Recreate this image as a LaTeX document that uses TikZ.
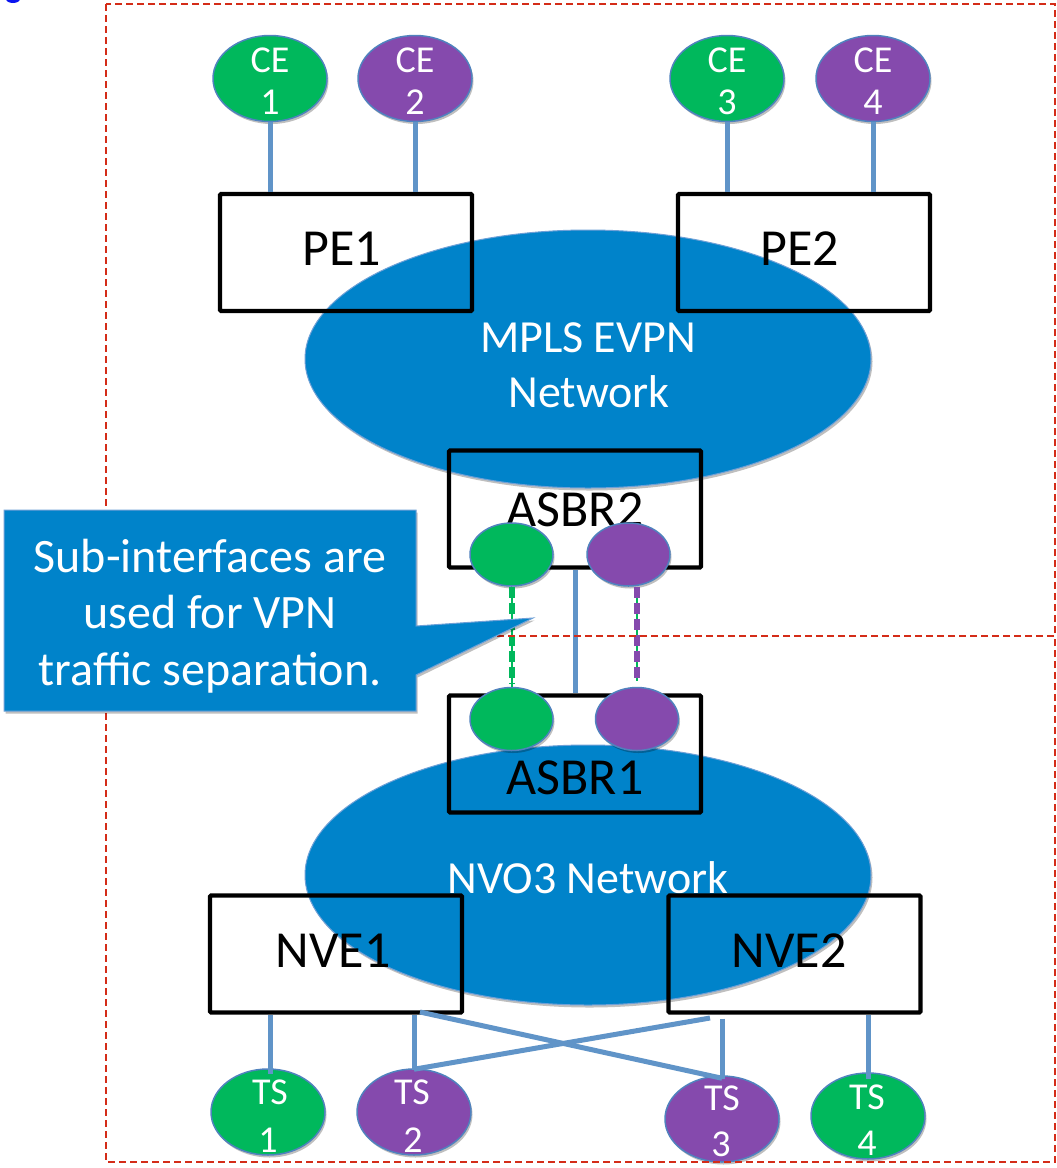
\documentclass[tikz,border=0pt]{standalone}
\usepackage{fontspec}
\setmainfont{Carlito}
\usetikzlibrary{shapes.geometric,shadows}
\definecolor{netblue}{RGB}{0,131,202}
\definecolor{vgreen}{RGB}{0,184,92}
\definecolor{vpurple}{RGB}{133,74,173}
\definecolor{linkblue}{RGB}{96,148,200}
\definecolor{rimblue}{RGB}{80,130,190}
\definecolor{calloutrim}{RGB}{110,160,215}
\definecolor{reddash}{RGB}{212,44,24}
\definecolor{dotblue}{RGB}{10,20,240}
\begin{document}
\begin{tikzpicture}[x=1pt,y=-1pt,
  softshadow/.style={drop shadow={shadow xshift=1.5pt, shadow yshift=-2.5pt, opacity=0.25, fill=black}},
  cloud/.style={ellipse, fill=netblue, draw=calloutrim, line width=1pt, minimum width=566pt, minimum height=258pt, inner sep=0pt, softshadow},
  host/.style={ellipse, draw=rimblue, line width=1.5pt, minimum width=114pt, minimum height=86pt, inner sep=0pt, softshadow},
  port/.style={ellipse, draw=rimblue, line width=1.5pt, minimum width=83pt, minimum height=63pt, inner sep=0pt, softshadow},
  devbox/.style={rectangle, draw=black, line width=4.2pt, minimum width=252pt, minimum height=117pt, inner sep=0pt, rounded corners=1pt},
  hosttext/.style={anchor=base, text=white, font=\fontsize{38}{44}\selectfont, inner sep=0pt},
  boxtext/.style={anchor=base, text=black, font=\fontsize{52}{60}\selectfont, inner sep=0pt},
  cloudtext/.style={anchor=base, text=white, font=\fontsize{46}{55}\selectfont, inner sep=0pt},
  calltext/.style={anchor=base, text=white, font=\fontsize{48}{57}\selectfont, inner sep=0pt},
  link/.style={draw=linkblue, line width=5pt},
  zone/.style={draw=reddash, line width=2pt, dash pattern=on 7pt off 4pt},
]
\useasboundingbox (0,0) rectangle (1057,1168);
\fill[white] (0,0) rectangle (1057,1168);

% clouds
\node[cloud] (mpls) at (588,359) {};
\node[cloud, minimum height=260pt] (nvo3) at (588,875) {};
\node[cloudtext] (mplst1) at (588,352) {MPLS EVPN};
\node[cloudtext] (mplst2) at (589,407) {Network};
\node[cloudtext] (nvo3t) at (588,893) {NVO3 Network};

% device boxes
\node[devbox] (pe1) at (346,252.5) {};
\node[devbox] (pe2) at (804,252.5) {};
\node[devbox] (asbr2) at (575,509) {};
\node[devbox] (asbr1) at (575,754) {};
\node[devbox] (nve1) at (336,954) {};
\node[devbox] (nve2) at (794.5,954) {};
\node[boxtext] (pe1t) at (342,265) {PE1};
\node[boxtext] (pe2t) at (800,265) {PE2};
\node[boxtext] (asbr2t) at (575,526) {ASBR2};
\node[boxtext] (asbr1t) at (575,794) {ASBR1};
\node[boxtext] (nve1t) at (333,967) {NVE1};
\node[boxtext] (nve2t) at (789,967) {NVE2};

% CE hosts
\node[host, fill=vgreen] (ce1) at (270,78.5) {};
\node[host, fill=vpurple] (ce2) at (415,78.5) {};
\node[host, fill=vgreen] (ce3) at (727,78.5) {};
\node[host, fill=vpurple] (ce4) at (873,78.5) {};
\node[hosttext] (ce1a) at (270,72) {CE};
\node[hosttext] (ce1b) at (270,114) {1};
\node[hosttext] (ce2a) at (415,72) {CE};
\node[hosttext] (ce2b) at (415,114) {2};
\node[hosttext] (ce3a) at (727,72) {CE};
\node[hosttext] (ce3b) at (727,114) {3};
\node[hosttext] (ce4a) at (873,72) {CE};
\node[hosttext] (ce4b) at (873,114) {4};

% ASBR sub-interface ports
\node[port, fill=vgreen] (g2) at (511.5,554.5) {};
\node[port, fill=vpurple] (p2) at (628.5,554.5) {};
\node[port, fill=vgreen] (g1) at (511.5,719) {};
\node[port, fill=vpurple] (p1) at (637,719) {};

% TS hosts
\node[host, fill=vgreen] (ts1) at (268,1112) {};
\node[host, fill=vpurple] (ts2) at (414,1112) {};
\node[host, fill=vpurple] (ts3) at (722,1119) {};
\node[host, fill=vgreen] (ts4) at (868,1116) {};
\node[hosttext] (ts1a) at (270,1104) {TS};
\node[hosttext] (ts1b) at (268,1152) {1};
\node[hosttext] (ts2a) at (412,1104) {TS};
\node[hosttext] (ts2b) at (413,1152) {2};
\node[hosttext] (ts3a) at (722,1110) {TS};
\node[hosttext] (ts3b) at (721,1156) {3};
\node[hosttext] (ts4a) at (867,1109) {TS};
\node[hosttext] (ts4b) at (867,1155) {4};

% links CE - PE
\draw[link] (ce1.south) -- (ce1.south |- pe1.north);
\draw[link] (ce2.south) -- (ce2.south |- pe1.north);
\draw[link] (ce3.south) -- (ce3.south |- pe2.north);
\draw[link] (ce4.south) -- (ce4.south |- pe2.north);

% ASBR links
\draw[link] (asbr2.south) -- (asbr1.north);
\draw[vgreen, line width=2pt] (g2.south) -- (g1.north);
\draw[vgreen, line width=6pt, dash pattern=on 11pt off 5pt] (g2.south) -- ([yshift=3pt]g1.north);
\draw[vgreen, line width=2pt] (p1.north |- p2.south) -- ([yshift=6pt]p1.north);
\draw[vpurple, line width=6pt, dash pattern=on 11pt off 5pt] (p1.north |- p2.south) -- ([yshift=6pt]p1.north);

% links NVE - TS
\coordinate (xa) at (420,1012);
\coordinate (xb) at (710,1018);
\draw[link] ([xshift=2pt]ts1.north |- nve1.south) -- ([xshift=2pt,yshift=-6pt]ts1.north);
\draw[link] (ts2.north |- nve1.south) -- ([yshift=-2pt]ts2.north);
\draw[link] ([yshift=-4pt]ts3.north |- nve2.south) -- ([yshift=-4pt]ts3.north);
\draw[link] (ts4.north |- nve2.south) -- ([yshift=-7pt]ts4.north);
\draw[link] (xa) -- ([yshift=-3pt]ts3.north);
\draw[link] (xb) -- ([yshift=-1pt]ts2.north);

% zones
\draw[zone] (106,4) rectangle (1055,636);
\draw[zone] (106,636) rectangle (1055,1162);

% callout
\path[fill=netblue, draw=calloutrim, line width=1pt, softshadow]
  (4,510) -- (416,510) -- (416,626) -- (533,618) -- (416,675) -- (416,711) -- (4,711) -- cycle;
\node[calltext] (call1) at (210,572) {Sub-interfaces are};
\node[calltext] (call2) at (210,628) {used for VPN};
\node[calltext] (call3) at (210,685) {traffic separation.};

% stray mark at top left
\fill[dotblue] (13,-1) ellipse (7 and 4);
\end{tikzpicture}
\end{document}
